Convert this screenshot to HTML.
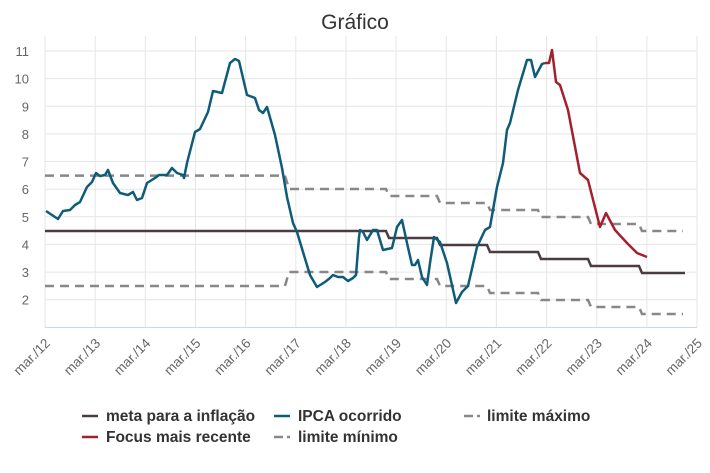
<!DOCTYPE html>
<html><head><meta charset="utf-8"><style>
body{margin:0;background:#fff;}
svg{display:block;font-family:"Liberation Sans","DejaVu Sans",sans-serif;}
</style></head><body>
<svg width="710" height="473" viewBox="0 0 710 473" xmlns="http://www.w3.org/2000/svg">
<rect width="710" height="473" fill="#fff"/>
<text x="355" y="29" text-anchor="middle" font-size="21" fill="#333">Gráfico</text>
<g stroke="#e6e6e6" stroke-width="1">
<line x1="45" y1="51" x2="697" y2="51"/><line x1="45" y1="78.6" x2="697" y2="78.6"/><line x1="45" y1="106.3" x2="697" y2="106.3"/><line x1="45" y1="133.9" x2="697" y2="133.9"/><line x1="45" y1="161.5" x2="697" y2="161.5"/><line x1="45" y1="189.2" x2="697" y2="189.2"/><line x1="45" y1="216.8" x2="697" y2="216.8"/><line x1="45" y1="244.4" x2="697" y2="244.4"/><line x1="45" y1="272.1" x2="697" y2="272.1"/><line x1="45" y1="299.7" x2="697" y2="299.7"/>
<line x1="45" y1="36" x2="45" y2="327"/><line x1="95.2" y1="36" x2="95.2" y2="327"/><line x1="145.3" y1="36" x2="145.3" y2="327"/><line x1="195.5" y1="36" x2="195.5" y2="327"/><line x1="245.6" y1="36" x2="245.6" y2="327"/><line x1="295.8" y1="36" x2="295.8" y2="327"/><line x1="346" y1="36" x2="346" y2="327"/><line x1="396.1" y1="36" x2="396.1" y2="327"/><line x1="446.3" y1="36" x2="446.3" y2="327"/><line x1="496.4" y1="36" x2="496.4" y2="327"/><line x1="546.6" y1="36" x2="546.6" y2="327"/><line x1="596.8" y1="36" x2="596.8" y2="327"/><line x1="646.9" y1="36" x2="646.9" y2="327"/><line x1="697" y1="36" x2="697" y2="327"/>
</g>
<line x1="45" y1="327.5" x2="697" y2="327.5" stroke="#ccd6eb" stroke-width="1"/>
<g font-size="13" fill="#666" text-anchor="end">
<text x="29" y="56">11</text><text x="29" y="83.6">10</text><text x="29" y="111.3">9</text><text x="29" y="138.9">8</text><text x="29" y="166.5">7</text><text x="29" y="194.2">6</text><text x="29" y="221.8">5</text><text x="29" y="249.4">4</text><text x="29" y="277.1">3</text><text x="29" y="304.7">2</text>
</g>
<g font-size="13.5" fill="#666" text-anchor="end">
<text transform="translate(51,344) rotate(-45)">mar./12</text>
<text transform="translate(101.2,344) rotate(-45)">mar./13</text>
<text transform="translate(151.3,344) rotate(-45)">mar./14</text>
<text transform="translate(201.5,344) rotate(-45)">mar./15</text>
<text transform="translate(251.6,344) rotate(-45)">mar./16</text>
<text transform="translate(301.8,344) rotate(-45)">mar./17</text>
<text transform="translate(352,344) rotate(-45)">mar./18</text>
<text transform="translate(402.1,344) rotate(-45)">mar./19</text>
<text transform="translate(452.3,344) rotate(-45)">mar./20</text>
<text transform="translate(502.4,344) rotate(-45)">mar./21</text>
<text transform="translate(552.6,344) rotate(-45)">mar./22</text>
<text transform="translate(602.8,344) rotate(-45)">mar./23</text>
<text transform="translate(652.9,344) rotate(-45)">mar./24</text>
<text transform="translate(703,344) rotate(-45)">mar./25</text>
</g>
<g fill="none" stroke="#888" stroke-width="2.5" stroke-dasharray="9,6">
<polyline points="45,175.6 285,175.6 289,189 386,189 389,196 437,196 440,203 487,203 490,210 538,210 541,217 588,217 591,224 639,224 642,231 683,231"/>
<polyline points="45,286 285,286 289,272 386,272 389,279 437,279 440,286 487,286 490,293 538,293 541,300 588,300 591,307 639,307 642,314 683,314"/>
</g>
<polyline fill="none" stroke="#4a3c3f" stroke-width="2.5" points="45,231 386,231 389,238 437,238 440,245 487,245 490,252 538,252 541,259 588,259 591,266 639,266 642,273 685,273"/>
<polyline fill="none" stroke="#0e5c7a" stroke-width="2.5" stroke-linejoin="round" points="46,211 58,219 63,211 70,210 75,205 80,202 87,187 92,182 96,173 100,176 105,175 108,170 113,183 120,193 128,195 133,192 137,200 142,198 147,183 155,178 159,175 167,175 172,168 177,173 183,175 184,178 187,163 195,132 200,129 208,112 213,91 222,93 230,63 235,59 239,61 247,95 255,98 259,110 263,113 267,107 275,135 282,168 287,197 293,223 297,232 303,252 310,275 317,287 325,282 330,278 333,275 338,277 343,277 348,281 353,278 356,275 359,237 360,230 363,232 367,240 373,230 377,230 383,250 392,248 397,227 402,220 407,243 412,265 415,265 418,260 422,277 427,285 430,263 434,237 440,242 447,263 456,303 462,292 468,286 477,247 485,230 490,227 497,187 503,163 507,130 510,123 518,90 527,60 531,60 535,77 542,64 545,63"/>
<polyline fill="none" stroke="#a3212e" stroke-width="2.5" stroke-linejoin="round" points="545,63 549,63 552,50 556,82 560,85 568,110 580,173 588,180 600,227 606,213 615,230 627,243 637,253 647,257"/>
<g font-size="15.5" font-weight="bold" fill="#333">
<line x1="82" y1="416" x2="98" y2="416" stroke="#4a3c3f" stroke-width="2.5"/>
<text x="106" y="421">meta para a inflação</text>
<line x1="274" y1="416" x2="290" y2="416" stroke="#0e5c7a" stroke-width="2.5"/>
<text x="298" y="421">IPCA ocorrido</text>
<line x1="464" y1="416" x2="473" y2="416" stroke="#888" stroke-width="2.5"/><line x1="477" y1="416" x2="480" y2="416" stroke="#888" stroke-width="2.5"/>
<text x="487" y="421">limite máximo</text>
<line x1="82" y1="437" x2="98" y2="437" stroke="#a3212e" stroke-width="2.5"/>
<text x="106" y="442">Focus mais recente</text>
<line x1="274" y1="437" x2="283" y2="437" stroke="#888" stroke-width="2.5"/><line x1="287" y1="437" x2="290" y2="437" stroke="#888" stroke-width="2.5"/>
<text x="298" y="442">limite mínimo</text>
</g>
</svg>
</body></html>
